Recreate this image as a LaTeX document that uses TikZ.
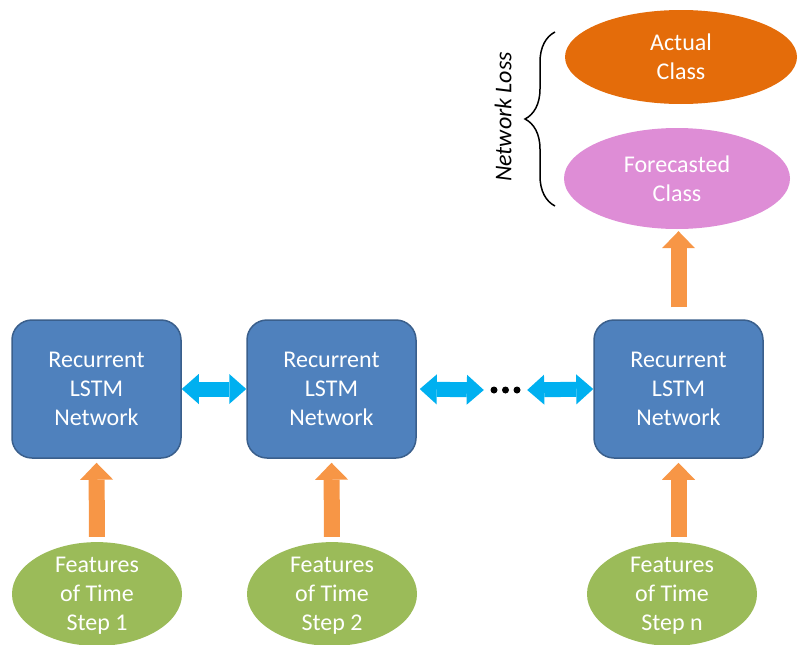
\documentclass[tikz,border=0pt]{standalone}
\usepackage{fontspec}
\setmainfont{Carlito}
\usetikzlibrary{arrows.meta,decorations.pathreplacing,shapes.geometric}
\definecolor{boxblue}{HTML}{4F81BD}
\definecolor{boxedge}{HTML}{3A5F8C}
\definecolor{arrorange}{HTML}{F79646}
\definecolor{arrcyan}{HTML}{00B0F0}
\definecolor{actorange}{HTML}{E46C0A}
\definecolor{forepink}{HTML}{DE8DD6}
\definecolor{featgreen}{HTML}{9BBB59}
\begin{document}
\begin{tikzpicture}[x=1pt,y=-1pt,
  txt/.style={text=white,align=center,font=\fontsize{24}{29}\selectfont},
  lstm/.style={txt,draw=boxedge,line width=1.5pt,fill=boxblue,rounded corners=20pt,minimum width=169pt,minimum height=138pt,inner sep=0pt},
  oval/.style={txt,ellipse,inner sep=0pt},
  feat/.style={oval,fill=featgreen,minimum width=170pt,minimum height=98pt,text depth=0pt},
  uparrow/.style={draw=arrorange,line width=16pt,-{Triangle[width=33pt,length=17pt,line width=0pt]}},
  sidearrow/.style={draw=arrcyan,line width=15pt,{Triangle[width=30pt,length=17pt,line width=0pt]}-{Triangle[width=30pt,length=17pt,line width=0pt]}}
]
\useasboundingbox (0,0) rectangle (798,645);
% LSTM boxes
\node[lstm] (b1) at (96.5,389) {Recurrent\\LSTM\\Network};
\node[lstm] (b2) at (331.5,389) {Recurrent\\LSTM\\Network};
\node[lstm] (b3) at (678.5,389) {Recurrent\\LSTM\\Network};
% feature ellipses
\node[feat] (f1) at (97,594) {Features\\of Time\\Step 1};
\node[feat] (f2) at (332,594) {Features\\of Time\\Step 2};
\node[feat] (f3) at (672,594) {Features\\of Time\\Step n};
% class ellipses
\node[oval,fill=forepink,minimum width=226pt,minimum height=101pt] (fc) at (677,178.5) {Forecasted\\Class};
\node[oval,fill=actorange,minimum width=232pt,minimum height=94pt] (ac) at (681,57) {Actual\\Class};
% dots
\node[minimum width=43pt,minimum height=10pt,inner sep=0pt] (dots) at (505.5,390) {};
\foreach \dx in {-11.5,0,11.5}
  \fill ([xshift=\dx pt]dots.center) circle (3.5pt);
% side arrows
\draw[sidearrow] (b1.east) -- (b2.west);
\draw[sidearrow,shorten <=3pt] (b2.east) -- (dots.west);
\draw[sidearrow] (dots.east) -- (b3.west);
% up arrows
\draw[uparrow,shorten <=5pt,shorten >=4pt] (f1.north) -- (b1.south);
\draw[uparrow,shorten <=5pt,shorten >=4pt] (f2.north) -- (b2.south);
\draw[uparrow,shorten <=5pt,shorten >=4pt] (b3.south |- f3.north) -- (b3.south);
\draw[uparrow,shorten <=12pt,shorten >=2pt] (b3.north) -- (b3.north |- fc.south);
% brace and label
\coordinate (brb) at (555,206);
\coordinate (brt) at (555,32);
\draw[line width=1.5pt,decorate,decoration={brace,amplitude=30pt}] (brb) -- (brt);
\node[rotate=90,font=\itshape\fontsize{24}{29}\selectfont] (nl) at (503,117) {Network Loss};
\end{tikzpicture}
\end{document}
